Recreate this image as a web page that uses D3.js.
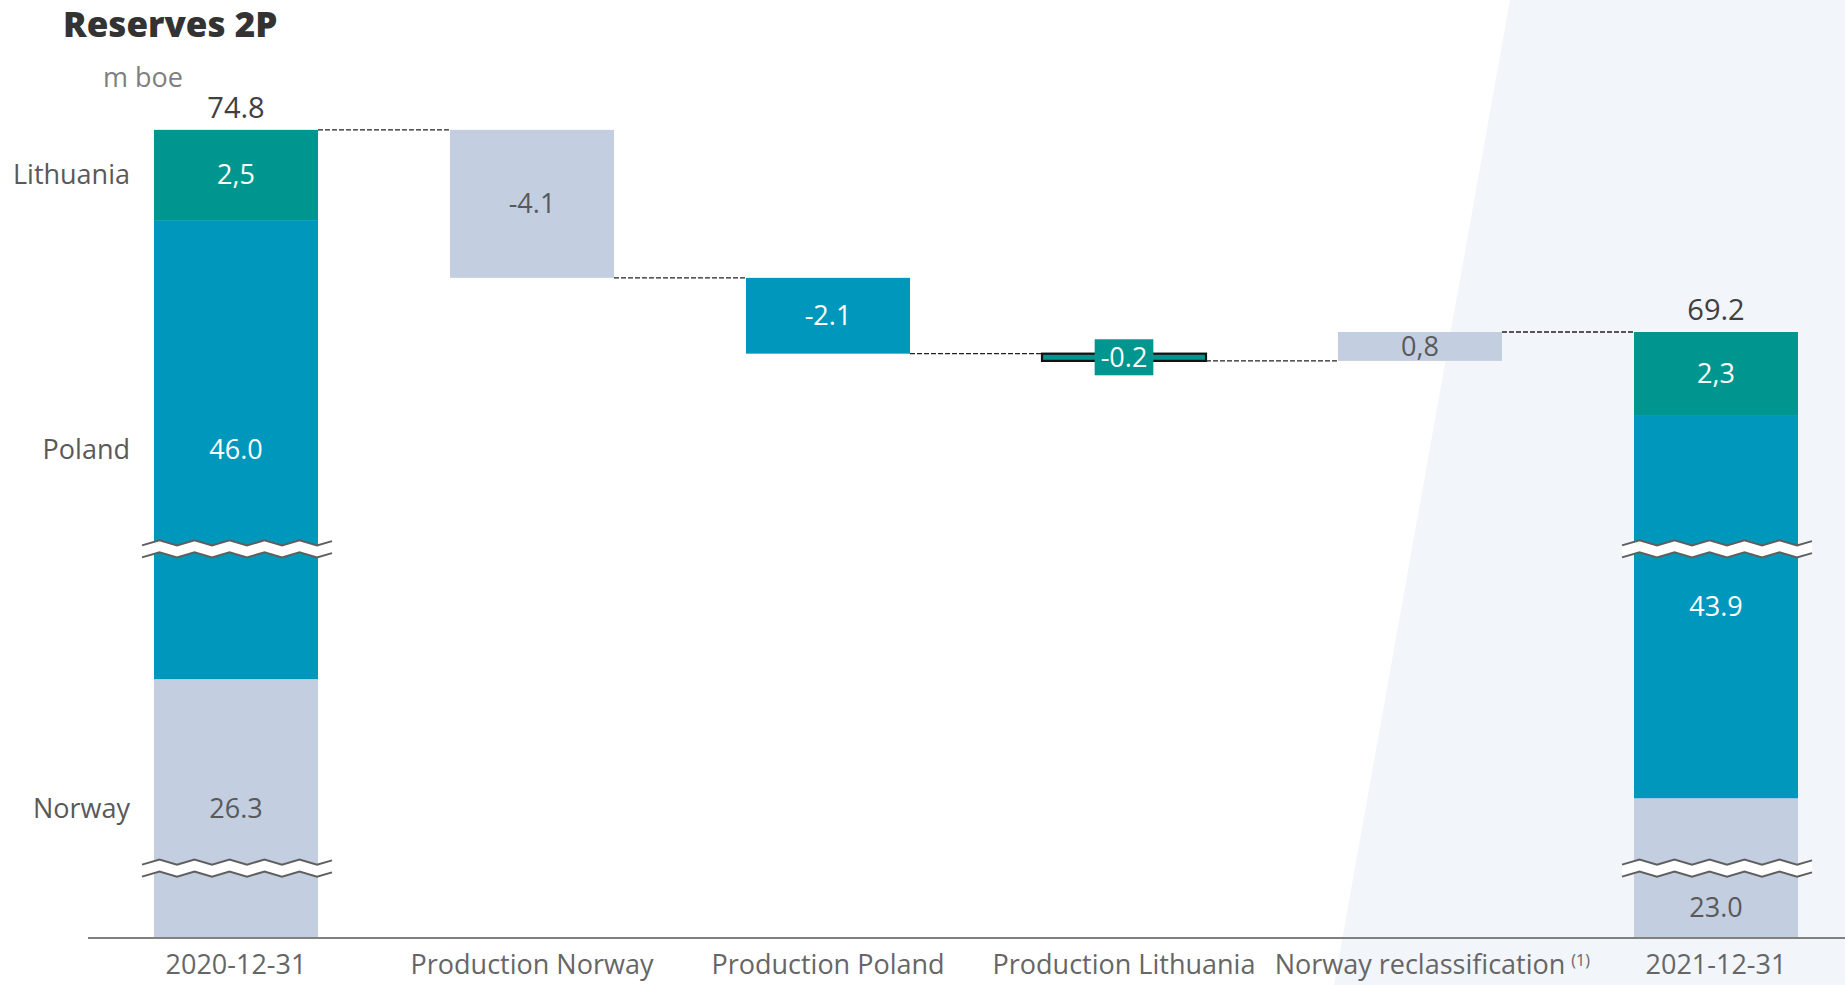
<!DOCTYPE html>
<html>
<head>
<meta charset="utf-8">
<script src="https://cdn.jsdelivr.net/npm/d3@7"></script>
<style>
  body { margin: 0; background: #fff; }
  svg { display: block; }
  text { font-family: "Segoe UI", "Open Sans", sans-serif; }
</style>
</head>
<body>
<svg id="chart" width="1845" height="985"></svg>
<script>
// chart data
var categories = ["2020-12-31", "Production Norway", "Production Poland",
                  "Production Lithuania", "Norway reclassification", "2021-12-31"];
var countries = ["Norway", "Poland", "Lithuania"];
var opening = [26.3, 46.0, 2.5];
var openingLabels = ["26.3", "46.0", "2,5"];
var closing = [23.0, 43.9, 2.3];
var closingLabels = ["23.0", "43.9", "2,3"];
var changes = [-4.1, -2.1, -0.2, 0.8];
var changeCountry = ["Norway", "Poland", "Lithuania", "Norway"];
var changeLabels = ["-4.1", "-2.1", "-0.2", "0,8"];
var totals = [74.8, 69.2];
var totalLabels = ["74.8", "69.2"];
// value ranges hidden behind the axis breaks
var axisBreaks = [[1.7, 21.3], [29.7, 63.4]];

var colors = { Norway: "#c3cee0", Poland: "#0097bd", Lithuania: "#009690" };
var textColors = { Norway: "#595959", Poland: "#ffffff", Lithuania: "#ffffff" };

var width = 1845, height = 985;
var svg = d3.select("#chart");

// x: one band per step of the waterfall
var x = d3.scaleBand()
    .domain(categories)
    .range([88, 1864])
    .paddingInner(0.446)
    .paddingOuter(0.223);
var bw = x.bandwidth();

// y: piecewise scale, each break squeezed into a small gap
var k = 36.1, gaps = [17, 15], yBase = 938, yMax = 80;
var dom = [0], rng = [yBase], pos = yBase, last = 0;
axisBreaks.forEach(function(b, i) {
    pos -= (b[0] - last) * k; dom.push(b[0]); rng.push(pos);
    pos -= gaps[i]; dom.push(b[1]); rng.push(pos);
    last = b[1];
});
pos -= (yMax - last) * k; dom.push(yMax); rng.push(pos);
var y = d3.scaleLinear().domain(dom).range(rng);

// build segments
var segs = [];
function stack(col, vals, labels) {
    var base = 0;
    countries.forEach(function(c, i) {
        segs.push({ col: col, country: c, lo: base, hi: base + vals[i], label: labels[i], total: true });
        base += vals[i];
    });
}
stack(categories[0], opening, openingLabels);
var run = d3.sum(opening);
var levels = [run];
changes.forEach(function(d, i) {
    var next = run + d;
    segs.push({ col: categories[i + 1], country: changeCountry[i],
                lo: Math.min(run, next), hi: Math.max(run, next), label: changeLabels[i] });
    run = next;
    levels.push(run);
});
stack(categories[5], closing, closingLabels);

// background panel on the right
svg.append("polygon")
    .attr("points", [[1510, 0], [width, 0], [width, height], [1334, height]].join(" "))
    .attr("fill", "#f2f5fa");

// bars
svg.append("g").selectAll("rect")
    .data(segs)
    .join("rect")
    .attr("x", function(d) { return x(d.col); })
    .attr("y", function(d) { return y(d.hi); })
    .attr("width", bw)
    .attr("height", function(d) { return y(d.lo) - y(d.hi); })
    .attr("fill", function(d) { return colors[d.country]; })
    .attr("stroke", function(d) { return (y(d.lo) - y(d.hi)) < 12 ? "#111" : "none"; })
    .attr("stroke-width", 2.2);

// break marks on the two total columns
var zig = 35, amp = 2.5;
function zigPoints(x0, x1, yy) {
    var pts = [], n = 0, xx;
    for (xx = x0; xx < x1; xx += zig / 2, n++) {
        pts.push([xx, yy + (n % 2 ? -amp : amp)]);
    }
    // finish the last half-tooth at the right edge
    var prev = pts[pts.length - 1], t = (x1 - prev[0]) / (zig / 2);
    pts.push([x1, prev[1] + (yy + (n % 2 ? -amp : amp) - prev[1]) * t]);
    return pts;
}
var breakG = svg.append("g");
[categories[0], categories[5]].forEach(function(col) {
    axisBreaks.forEach(function(b) {
        var mid = (y(b[0]) + y(b[1])) / 2;
        var x0 = x(col) - 12, x1 = x(col) + bw + 14;
        var topL = zigPoints(x0, x1, mid - 6), botL = zigPoints(x0, x1, mid + 6);
        breakG.append("path")
            .attr("d", d3.line()(topL.concat(botL.slice().reverse())) + "Z")
            .attr("fill", "#fff");
        [topL, botL].forEach(function(p) {
            breakG.append("path")
                .attr("d", d3.line()(p))
                .attr("fill", "none")
                .attr("stroke", "#5f5f5f")
                .attr("stroke-width", 2);
        });
    });
});

// dashed connectors
svg.append("g").selectAll("line")
    .data(levels)
    .join("line")
    .attr("x1", function(d, i) { return x(categories[i]) + bw; })
    .attr("x2", function(d, i) { return x(categories[i + 1]); })
    .attr("y1", function(d) { return y(d); })
    .attr("y2", function(d) { return y(d); })
    .attr("stroke", "#222")
    .attr("stroke-width", 1.4)
    .attr("stroke-dasharray", "5,2");

// value labels inside the bars
function labelY(d) {
    var mid = (y(d.lo) + y(d.hi)) / 2;
    axisBreaks.forEach(function(b) {
        if (mid > y(b[1]) - 5 && mid < y(b[0]) + 5) mid = (y(b[0]) + y(d.lo)) / 2;
    });
    return mid;
}
var lab = svg.append("g").selectAll("g")
    .data(segs)
    .join("g")
    .attr("transform", function(d) { return "translate(" + (x(d.col) + bw / 2) + "," + labelY(d) + ")"; });
lab.each(function(d) {
    var g = d3.select(this);
    var small = (y(d.lo) - y(d.hi)) < 12;
    var t = g.append("text")
        .attr("text-anchor", "middle")
        .attr("dy", "0.35em")
        .attr("font-size", 27)
        .attr("fill", textColors[d.country])
        .text(d.label);
    if (small) {
        var w = t.node().getComputedTextLength() + 12;
        g.insert("rect", "text")
            .attr("x", -w / 2).attr("y", -18)
            .attr("width", w).attr("height", 36)
            .attr("fill", colors[d.country]);
    }
});

// totals above the stacked columns
svg.append("g").selectAll("text")
    .data(totals)
    .join("text")
    .attr("x", function(d, i) { return x(categories[i * 5]) + bw / 2; })
    .attr("y", function(d) { return y(d) - 12; })
    .attr("text-anchor", "middle")
    .attr("font-size", 29)
    .attr("fill", "#404040")
    .text(function(d, i) { return totalLabels[i]; });

// country names on the left, level with the first column
svg.append("g").selectAll("text")
    .data(segs.filter(function(d) { return d.col === categories[0]; }))
    .join("text")
    .attr("x", x(categories[0]) - 24)
    .attr("y", function(d) { return (y(d.lo) + y(d.hi)) / 2; })
    .attr("dy", "0.35em")
    .attr("text-anchor", "end")
    .attr("font-size", 27)
    .attr("fill", "#595959")
    .text(function(d) { return d.country; });

// baseline and category labels
svg.append("line")
    .attr("x1", x.range()[0]).attr("x2", width)
    .attr("y1", y(0)).attr("y2", y(0))
    .attr("stroke", "#808080")
    .attr("stroke-width", 2);

var cats = svg.append("g").selectAll("text")
    .data(categories)
    .join("text")
    .attr("x", function(d) { return x(d) + bw / 2; })
    .attr("y", y(0) + 36)
    .attr("text-anchor", "middle")
    .attr("font-size", 27)
    .attr("fill", "#666")
    .text(function(d) { return d; });

// footnote marker after "Norway reclassification"
cats.filter(function(d) { return d === "Norway reclassification"; })
    .each(function(d) {
        var w = this.getComputedTextLength();
        svg.append("text")
            .attr("x", x(d) + bw / 2 + w / 2 + 6)
            .attr("y", y(0) + 28)
            .attr("font-size", 16)
            .attr("fill", "#666")
            .text("(1)");
    });

// title and unit
svg.append("text")
    .attr("x", 63).attr("y", 37)
    .attr("font-size", 35)
    .attr("font-weight", 900)
    .attr("fill", "#333")
    .text("Reserves 2P");

svg.append("text")
    .attr("x", 103).attr("y", 87)
    .attr("font-size", 27)
    .attr("fill", "#7f7f7f")
    .text("m boe");
</script>
</body>
</html>
